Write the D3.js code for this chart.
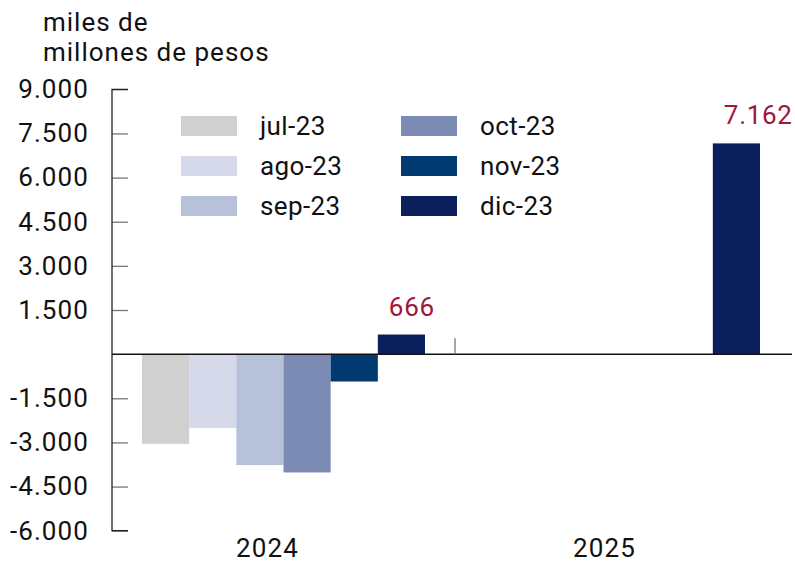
<!DOCTYPE html>
<html>
<head>
<meta charset="utf-8">
<script src="https://cdn.jsdelivr.net/npm/d3@7"></script>
<style>
  html, body { margin: 0; padding: 0; background: #fff; }
  svg { display: block; font-family: Roboto, "Noto Sans", sans-serif; }
</style>
</head>
<body>
<svg id="chart" width="795" height="563"></svg>
<script>
// ---- data ----
const years = ["2024", "2025"];
const months = ["jul-23", "ago-23", "sep-23", "oct-23", "nov-23", "dic-23"];
const values2024 = [-3050, -2510, -3770, -4020, -930, 666];
const values2025 = [null, null, null, null, null, 7162];
const colors = ["#D0D0D0", "#D6D9EA", "#B8C1DA", "#7B8BB4", "#003A70", "#0A1F5C"];
const yTicks = [-6000, -4500, -3000, -1500, 0, 1500, 3000, 4500, 6000, 7500, 9000];
const labelledMonth = "dic-23";
const unitLines = ["miles de", "millones de pesos"];

const seriesByYear = { "2024": values2024, "2025": values2025 };

(function () {
// ---- layout ----
const svg = d3.select("#chart");
const fontSize = 26;
const mLeft = 112, mRight = 786, mTop = 89.3, mBottom = 530.7;

const loc = d3.formatLocale({ decimal: ",", thousands: ".", grouping: [3], currency: ["$", ""], minus: "-" });
const fmt = loc.format(",d");

const y = d3.scaleLinear().domain([-6000, 9000]).range([mBottom, mTop]);
const x0 = d3.scaleBand().domain(years).range([mLeft, mRight]).paddingInner(0).paddingOuter(0);
const x1 = d3.scaleBand().domain(months).range([30, 313]).padding(0);
const shift = yr => (yr === "2025" ? -2 : 0);

// unit title
svg.append("g").selectAll("text").data(unitLines).join("text")
  .attr("x", 43).attr("y", (d, i) => 31 + i * 30)
  .attr("font-size", fontSize).attr("letter-spacing", 1).attr("fill", "#111").text(d => d);

// y axis
const yAxis = d3.axisLeft(y).tickValues(yTicks.filter(t => t !== 0)).tickSize(-16).tickPadding(23)
  .tickFormat(d => fmt(d));
const gy = svg.append("g").attr("transform", `translate(${mLeft},0)`).call(yAxis);
gy.select(".domain").remove();
gy.append("path").attr("d", `M16,${y(9000)}H0V${y(-6000)}H16`).attr("fill", "none").attr("stroke", "#222").attr("stroke-width", 1.3);
gy.selectAll(".tick line").attr("stroke", "#777").attr("stroke-width", 1.3);
gy.selectAll(".tick text").attr("font-size", fontSize).attr("letter-spacing", 1.1).attr("fill", "#111").attr("font-family", "Roboto, sans-serif");

// bars
const flat = [];
years.forEach(yr => months.forEach((m, i) => {
  const v = seriesByYear[yr][i];
  if (v !== null) flat.push({ year: yr, month: m, value: v, color: colors[i] });
}));

svg.append("g").selectAll("rect").data(flat).join("rect")
  .attr("x", d => x0(d.year) + x1(d.month) + shift(d.year))
  .attr("width", x1.bandwidth())
  .attr("y", d => y(Math.max(0, d.value)))
  .attr("height", d => Math.abs(y(d.value) - y(0)))
  .attr("fill", d => d.color);

// value labels
svg.append("g").selectAll("text").data(flat.filter(d => d.month === labelledMonth)).join("text")
  .attr("x", d => x0(d.year) + x1(d.month) + shift(d.year) + 11)
  .attr("y", d => y(Math.max(0, d.value)) - 19)
  .attr("font-size", fontSize).attr("letter-spacing", 0.7).attr("fill", "#A0163A")
  .text(d => fmt(d.value));

// zero line
svg.append("line").attr("x1", mLeft).attr("x2", 792).attr("y1", y(0)).attr("y2", y(0))
  .attr("stroke", "#111").attr("stroke-width", 1.5);

// category separator tick
svg.append("line").attr("x1", x0("2025") + 6).attr("x2", x0("2025") + 6)
  .attr("y1", y(0) - 16).attr("y2", y(0)).attr("stroke", "#777").attr("stroke-width", 1.3);

// year labels
svg.append("g").selectAll("text").data(years).join("text")
  .attr("x", d => x0(d) + x0.bandwidth() / 2 - 13).attr("y", 557)
  .attr("text-anchor", "middle").attr("font-size", fontSize).attr("letter-spacing", 1.1).attr("fill", "#111")
  .text(d => d);

// legend
const lg = svg.append("g");
const items = lg.selectAll("g").data(months).join("g")
  .attr("transform", (d, i) => `translate(${181 + Math.floor(i / 3) * 220},${116 + (i % 3) * 40})`);
items.append("rect").attr("width", 56).attr("height", 20).attr("fill", (d, i) => colors[i]);
items.append("text").attr("x", 79).attr("y", 19).attr("font-size", fontSize).attr("letter-spacing", 0.4).attr("fill", "#111").text(d => d);
})();
</script>
</body>
</html>
